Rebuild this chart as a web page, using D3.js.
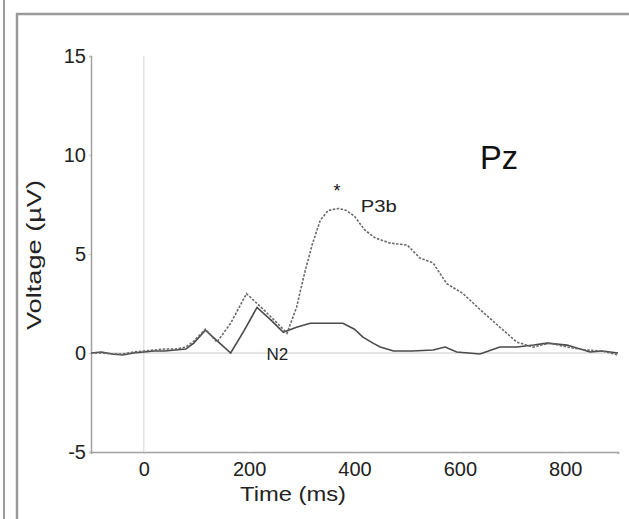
<!DOCTYPE html>
<html>
<head>
<meta charset="utf-8">
<script src="https://cdn.jsdelivr.net/npm/d3@7"></script>
<style>
  body { margin: 0; background: #fff; }
  svg { display: block; font-family: Arial, "Liberation Sans", sans-serif; }
</style>
</head>
<body>
<div id="chart"></div>
<script>
// Pz grand average, two conditions
let xTicks = [0, 200, 400, 600, 800];
let yTicks = [-5, 0, 5, 10, 15];

let solidTime = [-100, -80, -60, -40, -20, 0, 20, 40, 60, 80, 95, 117, 140, 165, 190, 215, 240, 265, 290, 316, 350, 378, 400, 416, 435, 449, 474, 510, 549, 572, 594, 638, 676, 708, 740, 765, 803, 847, 870, 900];
let solidVolt = [0, 0.05, -0.05, -0.1, 0, 0.05, 0.1, 0.1, 0.15, 0.2, 0.5, 1.15, 0.6, 0, 1.1, 2.3, 1.7, 1.05, 1.3, 1.5, 1.5, 1.5, 1.2, 0.8, 0.5, 0.3, 0.1, 0.1, 0.15, 0.3, 0.05, -0.05, 0.3, 0.3, 0.4, 0.5, 0.4, 0.05, 0.1, 0];

let dashTime = [-100, -80, -60, -40, -20, 0, 20, 40, 60, 80, 95, 117, 139, 165, 195, 227, 250, 272, 290, 305, 320, 335, 350, 370, 385, 400, 420, 440, 468, 500, 524, 549, 575, 606, 638, 676, 708, 739, 771, 803, 840, 870, 900];
let dashVolt = [0, 0, -0.05, -0.05, 0.05, 0.1, 0.15, 0.2, 0.2, 0.3, 0.6, 1.2, 0.55, 1.5, 3.0, 2.2, 1.6, 1.0, 2.3, 4.0, 5.5, 6.7, 7.2, 7.3, 7.2, 6.9, 6.2, 5.8, 5.55, 5.45, 4.8, 4.55, 3.5, 3.0, 2.2, 1.3, 0.55, 0.3, 0.5, 0.3, 0.15, 0.1, -0.1];

let width = 629;
let height = 519;
let margin = {top: 56, right: 11, bottom: 67, left: 91};

let svg = d3.select('#chart').append('svg')
    .attr('width', width)
    .attr('height', height);

// panel frame (edge of the neighbouring panel + this panel's border)
svg.append('line').attr('x1', 4).attr('x2', 4).attr('y1', 0).attr('y2', height)
    .attr('stroke', '#9a9a9a').attr('stroke-width', 2);
svg.append('path')
    .attr('d', `M17,${height} V14 H${width}`)
    .attr('fill', 'none').attr('stroke', '#9a9a9a').attr('stroke-width', 2.5);

let x = d3.scaleLinear().domain([-100, 900]).range([margin.left, width - margin.right]);
let y = d3.scaleLinear().domain([-5, 15]).range([height - margin.bottom, margin.top]);

// stimulus onset and zero baseline
svg.append('line')
    .attr('x1', x(0)).attr('x2', x(0)).attr('y1', y(15)).attr('y2', y(-5))
    .attr('stroke', '#e2e2e2').attr('stroke-width', 1.5);
svg.append('line')
    .attr('x1', x(-100)).attr('x2', x(900)).attr('y1', y(0)).attr('y2', y(0))
    .attr('stroke', '#c8c8c8').attr('stroke-width', 1);

// axes (plain hyphen for negatives, like the original)
let fmt = (d) => String(d);
let xAxis = svg.append('g')
    .attr('transform', `translate(0,${y(-5)})`)
    .call(d3.axisBottom(x).tickValues(xTicks).tickFormat(fmt).tickSize(2).tickPadding(8));
let yAxis = svg.append('g')
    .attr('transform', `translate(${x(-100)},0)`)
    .call(d3.axisLeft(y).tickValues(yTicks).tickFormat(fmt).tickSize(2).tickPadding(3));

[xAxis, yAxis].forEach((g) => {
  g.select('.domain').attr('stroke', '#a0a0a0').attr('stroke-width', 1.5);
  g.selectAll('.tick line').attr('stroke', '#c4c4c4');
  g.selectAll('text')
      .attr('fill', '#222')
      .style('font-size', '20px')
      .style('font-family', 'Arial, "Liberation Sans", sans-serif');
});

// axis titles
svg.append('text')
    .attr('x', 293).attr('y', 501)
    .attr('text-anchor', 'middle')
    .attr('fill', '#222')
    .attr('textLength', 106)
    .attr('lengthAdjust', 'spacingAndGlyphs')
    .style('font-size', '20px')
    .text('Time (ms)');
svg.append('text')
    .attr('transform', `translate(41,255) rotate(-90)`)
    .attr('text-anchor', 'middle')
    .attr('fill', '#222')
    .attr('textLength', 150)
    .attr('lengthAdjust', 'spacingAndGlyphs')
    .style('font-size', '20px')
    .text('Voltage (\u00b5V)');

let line = d3.line()
    .x((d) => x(d[0]))
    .y((d) => y(d[1]));

let solidData = solidTime.map((t, i) => [t, solidVolt[i]]);
let dashData = dashTime.map((t, i) => [t, dashVolt[i]]);

svg.append('path')
    .datum(solidData)
    .attr('d', line)
    .attr('fill', 'none')
    .attr('stroke', '#4a4a4a')
    .attr('stroke-width', 1.6);

svg.append('path')
    .datum(dashData)
    .attr('d', line)
    .attr('fill', 'none')
    .attr('stroke', '#6a6a6a')
    .attr('stroke-width', 1.6)
    .attr('stroke-dasharray', '2.5,1.5');

// annotations
svg.append('text')
    .attr('x', x(367)).attr('y', y(7.9))
    .attr('text-anchor', 'middle')
    .attr('fill', '#111')
    .style('font-size', '18px')
    .text('*');
svg.append('text')
    .attr('x', x(412)).attr('y', y(7.1))
    .attr('fill', '#222')
    .attr('textLength', 36)
    .attr('lengthAdjust', 'spacingAndGlyphs')
    .style('font-size', '16px')
    .text('P3b');
svg.append('text')
    .attr('x', x(233)).attr('y', y(-0.35))
    .attr('fill', '#222')
    .style('font-size', '17px')
    .text('N2');
svg.append('text')
    .attr('x', x(638)).attr('y', y(9.3))
    .attr('fill', '#111')
    .attr('textLength', 38)
    .attr('lengthAdjust', 'spacingAndGlyphs')
    .style('font-size', '34px')
    .text('Pz');
</script>
</body>
</html>
